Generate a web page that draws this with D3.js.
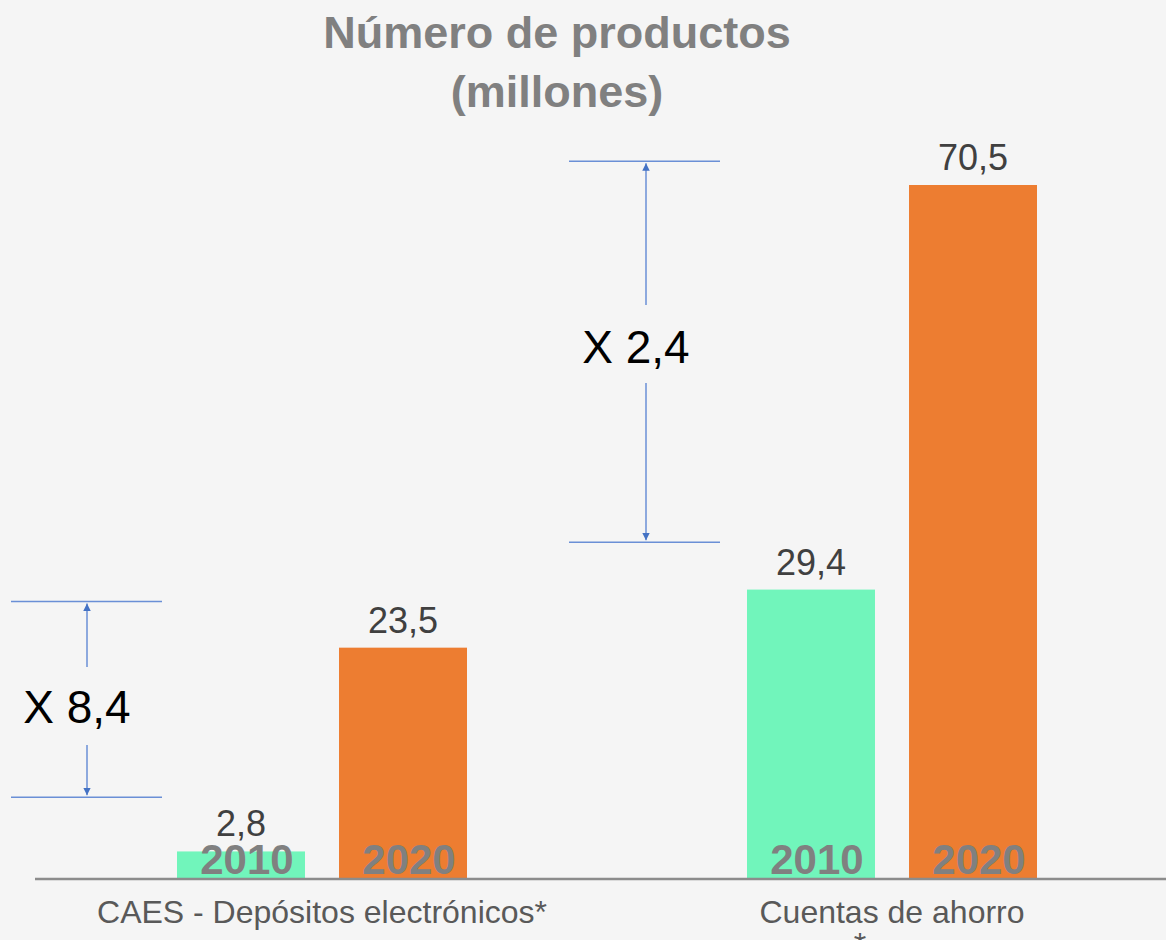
<!DOCTYPE html>
<html>
<head>
<meta charset="utf-8">
<script src="https://cdn.jsdelivr.net/npm/d3@7"></script>
<style>
  body { margin: 0; background: #f5f5f5; }
  svg { display: block; font-family: "Liberation Sans", Arial, sans-serif; }
</style>
</head>
<body>
<svg width="1166" height="940"></svg>
<script>
const categories = ["CAES - Depósitos electrónicos*", "Cuentas de ahorro"];
const years = ["2010", "2020"];
const values2010 = [2.8, 29.4];
const values2020 = [23.5, 70.5];
const growthLabels = ["X 8,4", "X 2,4"];
// bracket ends, in millions
const bracketLow = [8.3, 34.2];
const bracketHigh = [28.2, 72.9];

const colors = { "2010": "#71f5bb", "2020": "#ed7d31" };
const fmt = v => String(v).replace(".", ",");

const svg = d3.select("svg");
const baseY = 879;

const x = d3.scaleBand().domain(categories).range([37, 1177]);
const xSub = d3.scaleBand().domain(years).range([-145, 145]).paddingInner(0.21);
const y = d3.scaleLinear().domain([0, 70.5]).range([baseY, 185]);

const rows = [];
categories.forEach((c, i) => {
  rows.push({ cat: c, year: "2010", value: values2010[i] });
  rows.push({ cat: c, year: "2020", value: values2020[i] });
});
const barX = d => x(d.cat) + x.bandwidth() / 2 + xSub(d.year);

// title
const title = svg.append("text")
  .attr("x", 557).attr("y", 48)
  .attr("text-anchor", "middle")
  .attr("fill", "#808080")
  .attr("font-size", 45).attr("font-weight", "bold");
title.append("tspan").attr("x", 557).text("Número de productos");
title.append("tspan").attr("x", 557).attr("y", 107).text("(millones)");

// bars
svg.selectAll("rect.bar")
  .data(rows)
  .enter()
  .append("rect")
  .attr("class", "bar")
  .attr("x", barX)
  .attr("y", d => y(d.value))
  .attr("width", xSub.bandwidth())
  .attr("height", d => baseY - y(d.value))
  .attr("fill", d => colors[d.year]);

// value labels
svg.selectAll("text.val")
  .data(rows)
  .enter()
  .append("text")
  .attr("class", "val")
  .attr("x", d => barX(d) + xSub.bandwidth() / 2)
  .attr("y", d => y(d.value) - 15)
  .attr("text-anchor", "middle")
  .attr("fill", "#404040")
  .attr("font-size", 36)
  .text(d => fmt(d.value));

// year labels inside bars
svg.selectAll("text.yr")
  .data(rows)
  .enter()
  .append("text")
  .attr("class", "yr")
  .attr("x", d => barX(d) + xSub.bandwidth() / 2 + 6)
  .attr("y", baseY - 5)
  .attr("text-anchor", "middle")
  .attr("fill", "#808080")
  .attr("font-size", 42).attr("font-weight", "bold")
  .text(d => d.year);

// baseline
svg.append("line")
  .attr("x1", 35).attr("x2", 1166)
  .attr("y1", baseY).attr("y2", baseY)
  .attr("stroke", "#8c8c8c").attr("stroke-width", 2.5);

// category labels
svg.selectAll("text.cat")
  .data(categories)
  .enter()
  .append("text")
  .attr("class", "cat")
  .attr("x", d => x(d) + x.bandwidth() / 2)
  .attr("y", 923)
  .attr("text-anchor", "middle")
  .attr("fill", "#595959")
  .attr("font-size", 32)
  .text(d => d);
svg.append("text")
  .attr("x", 860).attr("y", 955)
  .attr("text-anchor", "middle")
  .attr("fill", "#595959")
  .attr("font-size", 32)
  .text("*");

// growth brackets
const defs = svg.append("defs");
defs.append("marker")
  .attr("id", "arr")
  .attr("viewBox", "0 0 10 10")
  .attr("refX", 10).attr("refY", 5)
  .attr("markerWidth", 5).attr("markerHeight", 5)
  .attr("orient", "auto")
  .append("path")
  .attr("d", "M0,0L10,5L0,10z")
  .attr("fill", "#4472c4");

const brackets = [
  { label: growthLabels[0], lo: bracketLow[0], hi: bracketHigh[0], cx: 87, lx: 11, tx: 77, gapTop: 667, gapBot: 745, ty: 723 },
  { label: growthLabels[1], lo: bracketLow[1], hi: bracketHigh[1], cx: 646, lx: 569, tx: 636, gapTop: 305, gapBot: 383, ty: 363 }
];

brackets.forEach(b => {
  const g = svg.append("g");
  [b.lo, b.hi].forEach(v => {
    g.append("line")
      .attr("x1", b.lx).attr("x2", b.lx + 151)
      .attr("y1", y(v)).attr("y2", y(v))
      .attr("stroke", "#6a8fd6").attr("stroke-width", 1.5);
  });
  g.append("line")
    .attr("x1", b.cx).attr("x2", b.cx)
    .attr("y1", b.gapTop).attr("y2", y(b.hi) + 2)
    .attr("stroke", "#6a8fd6").attr("stroke-width", 1.5)
    .attr("marker-end", "url(#arr)");
  g.append("line")
    .attr("x1", b.cx).attr("x2", b.cx)
    .attr("y1", b.gapBot).attr("y2", y(b.lo) - 2)
    .attr("stroke", "#6a8fd6").attr("stroke-width", 1.5)
    .attr("marker-end", "url(#arr)");
  g.append("text")
    .attr("x", b.tx).attr("y", b.ty)
    .attr("text-anchor", "middle")
    .attr("fill", "#000")
    .attr("font-size", 46)
    .text(b.label);
});
</script>
</body>
</html>
